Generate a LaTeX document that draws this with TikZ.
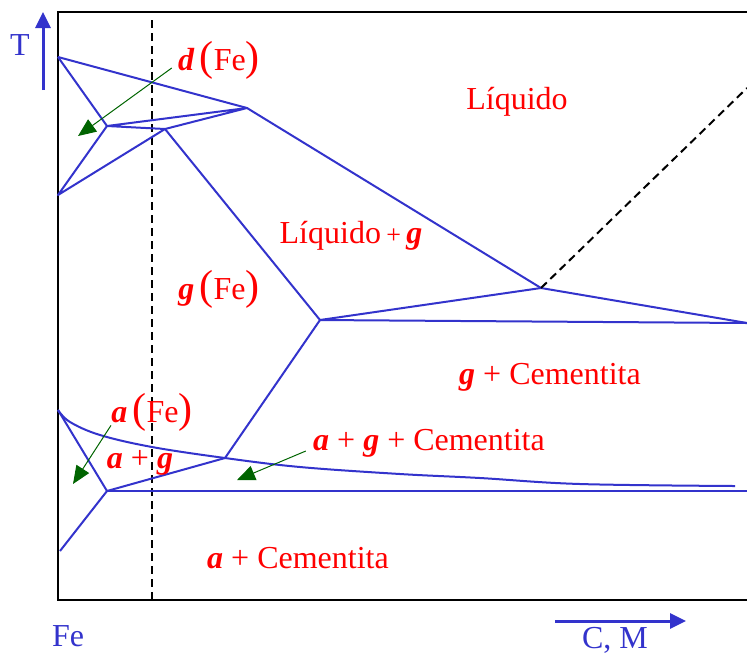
\documentclass[tikz,border=0pt]{standalone}
\usepackage{fontspec}
\setmainfont{Liberation Serif}
\usetikzlibrary{arrows.meta}
\definecolor{lineblue}{RGB}{51,51,204}
\definecolor{labelred}{RGB}{255,0,0}
\definecolor{pointgreen}{RGB}{0,100,0}
\newcommand{\gk}[1]{\textbf{\textit{#1}}}
\newcommand{\fe}{{\fontsize{21}{21}\selectfont(}Fe{\fontsize{21}{21}\selectfont)}}

\begin{document}
\begin{tikzpicture}[x=.5pt,y=-.5pt,font=\fontsize{16}{19}\selectfont,
  phase/.style={lineblue,line width=1pt,line join=round},
  region/.style={labelred,inner sep=0pt},
  pointer/.style={pointgreen,line width=.5pt,-{Triangle[length=9pt,width=7.5pt]}},
  axisarrow/.style={lineblue,line width=1.5pt,-{Triangle[length=8pt,width=7.5pt]}}]
  \useasboundingbox (0,0) rectangle (747,654);
  % frame and section line
  \draw[line width=1pt] (747,12) -- (58,12) -- (58,600) -- (747,600);
  \draw[line width=1pt,dash pattern=on 4pt off 2.5pt] (152,20) -- (152,600);
  % points of the diagram
  \foreach \n/\x/\y in {dtop/58/57,dperi/247/108,dleft/107/126,dmid/165/129,
      dlow/58/195,eut/541/288,gnose/320/320,eutd/225/458,aeut/107/491,
      atop/58/410,abot/60/551,redge/747/323,aedge/747/491,cedge/747/88}
    \coordinate (\n) at (\x,\y);
  % phase boundaries
  \draw[phase] (dtop) -- (dperi) -- (eut) -- (redge);
  \draw[phase] (dtop) -- (dleft) -- (dlow) -- (dmid) -- (dperi) -- (dleft) -- (dmid);
  \draw[phase] (dmid) -- (gnose) -- (eut);
  \draw[phase] (gnose) -- (redge);
  \draw[phase] (gnose) -- (eutd) -- (aeut) -- (atop);
  \draw[phase] (aeut) -- (abot);
  \draw[phase] (aeut) -- (aedge);
  \draw[phase] plot[smooth,tension=.6] coordinates {(58,410) (70,422) (100,435)
    (152,447) (225,458) (300,467) (400,474) (480,478) (580,484) (735,486)};
  \draw[line width=1pt,dash pattern=on 4pt off 2.5pt] (eut) -- (cedge);
  % region labels
  \node[region] (delta) at (219,60) {\gk{d}\,\fe};
  \node[region] (liq) at (517,102) {Líquido};
  \node[region] (liqg) at (351,236) {Líquido\,{\fontsize{13}{13}\selectfont+}\,\gk{g}};
  \node[region] (gfe) at (219,289) {\gk{g}\,\fe};
  \node[region] (gcem) at (550,377) {\gk{g} + Cementita};
  \node[region] (afe) at (152,412) {\gk{a}\,\fe};
  \node[region] (ag) at (140,463) {\gk{a} + \gk{g}};
  \node[region] (agc) at (429,443) {\gk{a} + \gk{g} + Cementita};
  \node[region] (acem) at (298,558) {\gk{a} + Cementita};
  % pointers
  \coordinate (dtip) at (78,136);
  \coordinate (atip) at (73,484);
  \coordinate (agtip) at (237,480);
  \draw[pointer] ([shift={(-6,8)}]delta.west) -- (dtip);
  \draw[pointer] ([shift={(0,-6)}]afe.south west) -- (atip);
  \draw[pointer] ([shift={(-7,8)}]agc.west) -- (agtip);
  % axes
  \node[lineblue] (tlab) at (20,45) {T};
  \node[lineblue] (felab) at (68,636) {Fe};
  \node[lineblue] (cmlab) at (615,640) {C, M};
  \coordinate (tfoot) at (43,90);
  \coordinate (thead) at (43,12);
  \coordinate (cfoot) at (555,621);
  \coordinate (chead) at (686,621);
  \draw[axisarrow] (tfoot) -- (thead);
  \draw[axisarrow] (cfoot) -- (chead);
\end{tikzpicture}
\end{document}
